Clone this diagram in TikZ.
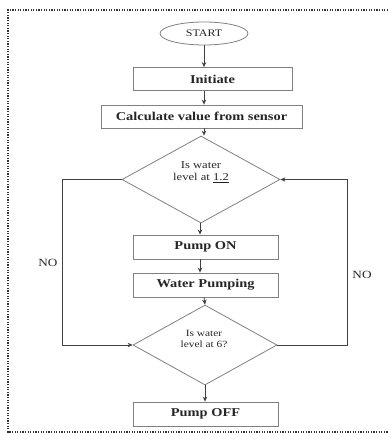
\documentclass[tikz,border=0pt]{standalone}
\usepackage{fontspec}
\setmainfont{Liberation Serif}[FakeStretch=1.2]
\usetikzlibrary{shapes.geometric,arrows.meta}
\begin{document}
\begin{tikzpicture}[x=1pt,y=-1pt,
  every node/.style={text=black!85, inner sep=0pt},
  stepbox/.style={draw=black!50, line width=0.8pt, rectangle, minimum height=23pt,
    font=\bfseries\fontsize{12}{14}\selectfont},
  decide/.style={draw=black!50, line width=0.8pt, diamond, shape aspect=1},
  flow/.style={draw=black!75, line width=0.8pt},
  arr/.style={flow, -{Stealth[length=5pt,width=4.5pt]}},
  nolabel/.style={font=\fontsize{11}{13}\selectfont},
  frame/.style={draw=black!80, line width=1.1pt, dash pattern=on 1.3pt off 1.3pt}]
  \useasboundingbox (0,0) rectangle (388,433);

  % page frame (open on the right)
  \draw[frame] (388,10) -- (8,10) -- (8,432) -- (388,432);

  % start terminal
  \node[draw=black!50, line width=0.8pt, ellipse, minimum width=88pt, minimum height=23pt,
    font=\fontsize{10}{12}\selectfont] (start) at (204,33.5) {START};

  % process boxes
  \node[stepbox, minimum width=159pt] (init) at (212.5,79) {Initiate};
  \node[stepbox, minimum width=201pt] (calc) at (201.5,116.5) {Calculate value from sensor};

  % first decision
  \node[decide, minimum width=158pt, minimum height=87pt] (low) at (201,179.5) {};
  \node[align=center, font=\fontsize{10.5}{12.5}\selectfont] (lowtxt) at (201,172)
    {Is water\\ level at \underline{1.2}};

  \node[stepbox, minimum width=145pt, minimum height=24pt] (pon) at (205.5,247) {Pump ON};
  \node[stepbox, minimum width=145pt, minimum height=24pt] (pumping) at (205.5,285) {Water Pumping};

  % second decision
  \node[decide, minimum width=144pt, minimum height=80pt] (high) at (205,345) {};
  \node[align=center, font=\fontsize{9.5}{11.5}\selectfont] (hightxt) at (204,339)
    {Is water\\ level at 6?};

  \node[stepbox, minimum width=145pt, minimum height=24pt] (poff) at (205.5,414) {Pump OFF};

  % main flow
  \draw[arr] (start.south) -- (start.south |- init.north);
  \draw[arr] (init.south -| start.south) -- (start.south |- calc.north);
  \draw[arr] (calc.south -| start.south) -- (low.north -| start.south);
  \draw[arr] (low.south -| 200,0) -- (200,0 |- pon.north);
  \draw[arr] (pon.south -| 200,0) -- (200,0 |- pumping.north);
  \draw[arr] (pumping.south -| 204,0) -- (high.north);
  \draw[arr] (high.south) -- (high.south |- poff.north);

  % NO branches
  \coordinate (lt) at (62,179.5);
  \coordinate (lb) at (62,345);
  \coordinate (rt) at (347,179.5);
  \coordinate (rb) at (347,345);
  \draw[arr] (low.west) -- (lt) -- (lb) -- (high.west);
  \draw[arr] (high.east) -- (rb) -- (rt) -- (low.east);

  \node[nolabel] (noleft) at (48,263) {NO};
  \node[nolabel] (noright) at (362,275) {NO};
\end{tikzpicture}
\end{document}
